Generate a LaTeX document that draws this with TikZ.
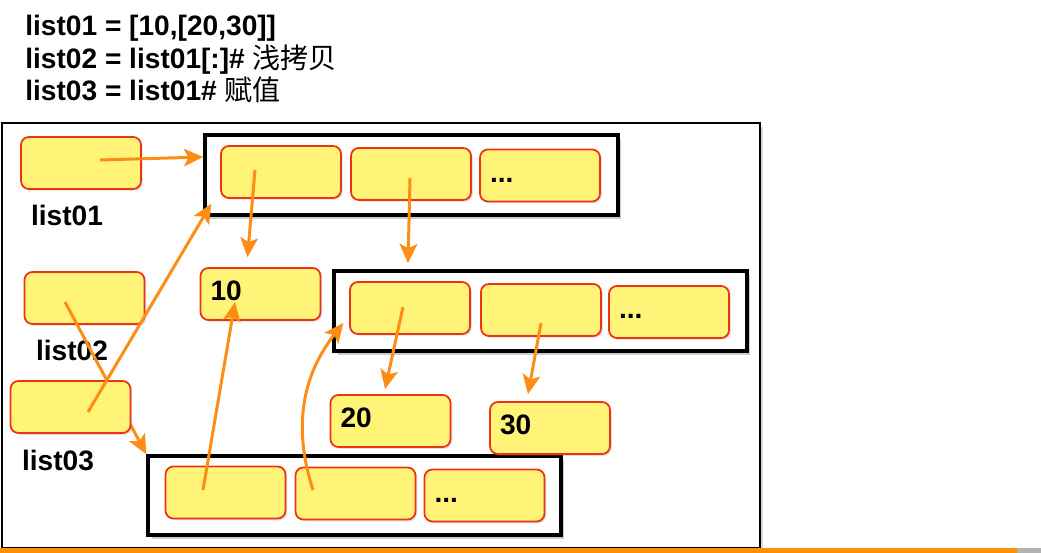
\documentclass[tikz,border=0pt]{standalone}
\usepackage{fontspec}
\setmainfont{Liberation Sans}
\newfontfamily\cjk{Noto Sans CJK SC}
\usetikzlibrary{arrows.meta,positioning,shadows,calc}
\definecolor{cellfill}{RGB}{255,244,120}
\definecolor{cellline}{RGB}{240,50,20}
\definecolor{ptrorange}{RGB}{255,140,20}
\definecolor{barorange}{RGB}{255,145,0}
\newcommand\morecells{...}

\begin{document}
\begin{tikzpicture}[x=0.02cm,y=-0.02cm,
    cell/.style={draw=cellline,fill=cellfill,line width=1pt,rounded corners=4.5pt,
      minimum width=2.4cm,minimum height=1.04cm,inner xsep=0.2cm,inner ysep=0pt,
      text width=2.0cm,align=left,font=\fontsize{16}{19}\selectfont\bfseries,
      drop shadow={shadow xshift=1pt,shadow yshift=-1pt,opacity=0.25}},
    frame/.style={draw=black,line width=2pt,fill=white,inner sep=0pt,
      minimum width=8.26cm,minimum height=1.6cm,
      drop shadow={shadow xshift=2pt,shadow yshift=-2pt,opacity=0.4}},
    varname/.style={font=\fontsize{16}{19}\selectfont\bfseries,inner sep=0pt},
    code/.style={font=\fontsize{16}{19}\selectfont\bfseries,inner sep=0pt,anchor=base west},
    ptr/.style={draw=ptrorange,line width=1.7pt,-{Stealth[length=11pt,width=10pt,inset=2.5pt]}}]
  \useasboundingbox (0,0) rectangle (1041,553);
  % source lines
  \node[code] (s1) at (25,36) {list01 = [10,[20,30]]};
  \node[code] (s2) at (25,69) {list02 = list01[:]\# {\cjk\mdseries 浅拷贝}};
  \node[code] (s3) at (25,101) {list03 = list01\# {\cjk\mdseries 赋值}};
  % memory
  \node[draw=black,line width=1.6pt,fill=white,minimum width=15.16cm,minimum height=8.5cm,inner sep=0pt,
    drop shadow={shadow xshift=2pt,shadow yshift=-2pt,opacity=0.3}] (mem) at (381,335.5) {};
  \node[frame] (lstA) at (411.5,175) {};
  \node[frame] (lstB) at (540.5,311) {};
  \node[frame,minimum height=1.58cm] (lstC) at (354.5,495.5) {};
  \foreach \n/\x/\y/\t in {a1/281/172/,a2/411/174/,a3/540/175.5/\morecells,
      b1/410/308/,b2/541/310/,b3/669/312/\morecells,
      c1/225.5/492.5/,c2/355.5/493.5/,c3/484.5/495.5/\morecells,
      n10/260.5/294/10,n20/390.5/421/20,n30/550/428/30,
      v1/81/163/,v2/84.5/298/}
    \node[cell] (\n) at (\x,\y) {\strut\t};
  \node[varname] (l1) at (67,215) {list01};
  \node[varname] (l2) at (72,350) {list02};
  \node[varname] (l3) at (58,460) {list03};
  % list02 runs under list03
  \draw[ptr] ($(v2)+(-19.5,4)$) -- (lstC.north west);
  \node[cell] (v3) at (70.5,407) {\strut};
  % references
  \draw[ptr] ($(v1)+(19,-3)$) -- ($(lstA.west)+(0,-18)$);
  \draw[ptr] ($(v3)+(17.5,5)$) -- ($(lstA.south west)+(8,-13)$);
  \draw[ptr] ($(a1)+(-26,-2)$) -- ($(n10.north)+(-13,-10)$);
  \draw[ptr] ($(a2)+(-1,4)$) -- ($(a2 |- lstB.north)+(-3,-6)$);
  \draw[ptr] ($(c1)+(-22.5,-2.5)$) -- ($(n10)+(-25.5,8)$);
  \draw[ptr] ($(c2)+(-42.5,-3.5)$) to[out=108,in=232] ($(lstB.west)+(11,12)$);
  \draw[ptr] ($(b1)+(-7,-1)$) -- ($(n20.north)+(-5.5,-5)$);
  \draw[ptr] ($(b2)+(0,13)$) -- ($(n30.north)+(-22,-7)$);
  % bottom bar
  \fill[barorange] (0,548) rectangle (1017,553);
  \fill[gray!60] (1017,548) rectangle (1041,553);
\end{tikzpicture}
\end{document}
